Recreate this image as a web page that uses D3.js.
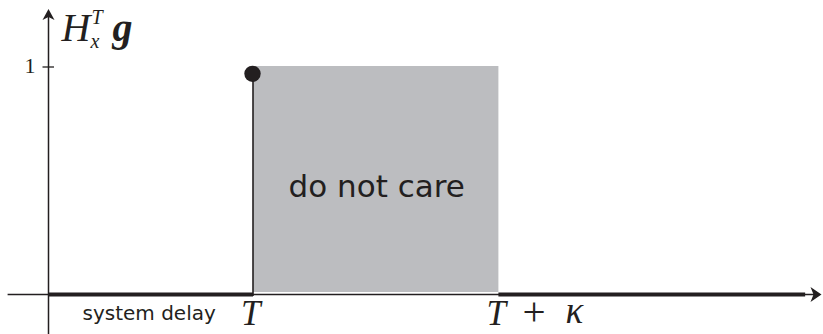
<!DOCTYPE html>
<html>
<head>
<meta charset="utf-8">
<script src="https://cdn.jsdelivr.net/npm/d3@7"></script>
<style>
  body { margin: 0; background: #fff; }
  svg { display: block; }
  .math { font-family: "Liberation Serif", serif; font-style: italic; fill: #231f20; }
  .plain { font-family: "DejaVu Sans", sans-serif; fill: #231f20; }
</style>
</head>
<body>
<div id="chart"></div>
<script>
// time axis, in units of tau
var xAxisRange = [-0.2, 3.78];
var yAxisRange = [-0.18, 1.255];
var tickValues = [1];
var tickLabels = ["1"];
// response: impulse at tau, do-not-care window [tau, tau + kappa]
var impulse = [{ t: 1, v: 0.97 }];
var dontCare = [{ t0: 1, t1: 2.2, v0: 0, v1: 1 }];
var zeroParts = [[0, 1], [2.2, 3.7]];
var xMarks = [
  { t: 1, label: "T" },
  { t: 2.2, label: "T", plus: "\u03BA" }
];

var width = 823, height = 334;
var ink = "#231f20";

var x = d3.scaleLinear().domain([0, 1]).range([48.5, 253]);
var y = d3.scaleLinear().domain([0, 1]).range([294.5, 67]);

var svg = d3.select("#chart").append("svg")
  .attr("width", width)
  .attr("height", height);

// grey region
svg.selectAll(".dont-care")
  .data(dontCare)
  .enter()
  .append("rect")
    .attr("class", "dont-care")
    .attr("x", function (d) { return x(d.t0); })
    .attr("y", function (d) { return y(d.v1) - 1; })
    .attr("width", function (d) { return x(d.t1) - x(d.t0); })
    .attr("height", function (d) { return y(d.v0) - y(d.v1) - 1.5; })
    .attr("fill", "#bcbdc0");

svg.selectAll(".dont-care-label")
  .data(dontCare)
  .enter()
  .append("text")
    .attr("class", "plain")
    .attr("x", function (d) { return (x(d.t0) + x(d.t1)) / 2 + 1; })
    .attr("y", 197)
    .attr("text-anchor", "middle")
    .attr("font-size", 31)
    .text("do not care");

// axes
svg.append("line")
  .attr("x1", x(xAxisRange[0])).attr("x2", x(xAxisRange[1]) - 6)
  .attr("y1", y(0)).attr("y2", y(0))
  .attr("stroke", ink).attr("stroke-width", 1.3);
svg.append("line")
  .attr("x1", x(0)).attr("x2", x(0))
  .attr("y1", y(yAxisRange[0])).attr("y2", y(yAxisRange[1]) + 6)
  .attr("stroke", ink).attr("stroke-width", 1.5);

var xe = x(xAxisRange[1]), y0 = y(0);
svg.append("path")
  .attr("d", "M" + xe + "," + y0 + " L" + (xe - 11) + "," + (y0 - 7.5) +
    " L" + (xe - 8) + "," + y0 + " L" + (xe - 11) + "," + (y0 + 7.5) + "Z")
  .attr("fill", ink);
var ye = y(yAxisRange[1]), x0 = x(0);
svg.append("path")
  .attr("d", "M" + x0 + "," + ye + " L" + (x0 - 6) + "," + (ye + 11) +
    " L" + x0 + "," + (ye + 8) + " L" + (x0 + 6) + "," + (ye + 11) + "Z")
  .attr("fill", ink);

// zero response segments
svg.selectAll(".zero")
  .data(zeroParts)
  .enter()
  .append("line")
    .attr("class", "zero")
    .attr("x1", function (d) { return x(d[0]); })
    .attr("x2", function (d) { return x(d[1]); })
    .attr("y1", y(0)).attr("y2", y(0))
    .attr("stroke", ink)
    .attr("stroke-width", 4);

// impulse
svg.selectAll(".stem")
  .data(impulse)
  .enter()
  .append("line")
    .attr("class", "stem")
    .attr("x1", function (d) { return x(d.t); })
    .attr("x2", function (d) { return x(d.t); })
    .attr("y1", y(0) + 1.5)
    .attr("y2", function (d) { return y(d.v); })
    .attr("stroke", ink)
    .attr("stroke-width", 1.6);
svg.selectAll(".dot")
  .data(impulse)
  .enter()
  .append("circle")
    .attr("class", "dot")
    .attr("cx", function (d) { return x(d.t) - 0.5; })
    .attr("cy", function (d) { return y(d.v); })
    .attr("r", 8.2)
    .attr("fill", ink);

// y ticks
svg.selectAll(".ytick")
  .data(tickValues)
  .enter()
  .append("line")
    .attr("class", "ytick")
    .attr("x1", x(0) - 6).attr("x2", x(0) + 5.5)
    .attr("y1", function (d) { return y(d); })
    .attr("y2", function (d) { return y(d); })
    .attr("stroke", ink).attr("stroke-width", 1.3);
svg.selectAll(".ytick-label")
  .data(tickValues)
  .enter()
  .append("text")
    .attr("x", x(0) - 13)
    .attr("y", function (d) { return y(d) + 6; })
    .attr("text-anchor", "end")
    .attr("font-family", "Liberation Serif, serif")
    .attr("font-size", 22)
    .attr("fill", ink)
    .text(function (d, i) { return tickLabels[i]; });

// y axis title H_x^T g
var tx = x(0) + 13;
var title = svg.append("text").attr("class", "math").attr("font-size", 40);
title.append("tspan").attr("x", tx).attr("y", 41).text("H");
title.append("tspan").attr("x", tx + 30).attr("y", 24).attr("font-size", 20).text("T");
title.append("tspan").attr("x", tx + 29).attr("y", 48).attr("font-size", 20).text("x");
title.append("tspan").attr("x", tx + 51).attr("y", 41)
  .attr("font-weight", "bold").text("g");

// x marks
var marks = svg.selectAll(".xmark")
  .data(xMarks)
  .enter()
  .append("text")
    .attr("class", "math xmark")
    .attr("font-size", 35);
marks.append("tspan")
  .attr("x", function (d) { return x(d.t) - 12; })
  .attr("y", 325)
  .text(function (d) { return d.label; });
marks.filter(function (d) { return d.plus; })
  .append("tspan")
    .attr("x", function (d) { return x(d.t) + 24; })
    .attr("y", 324.5)
    .attr("font-size", 41)
    .style("font-style", "normal")
    .text("+");
marks.filter(function (d) { return d.plus; })
  .append("tspan")
    .attr("x", function (d) { return x(d.t) + 67; })
    .attr("y", 323)
    .attr("font-size", 37)
    .text(function (d) { return d.plus; });

svg.append("text")
  .attr("class", "plain")
  .attr("x", x(0) + 34)
  .attr("y", 320)
  .attr("font-size", 20)
  .text("system delay");
</script>
</body>
</html>
